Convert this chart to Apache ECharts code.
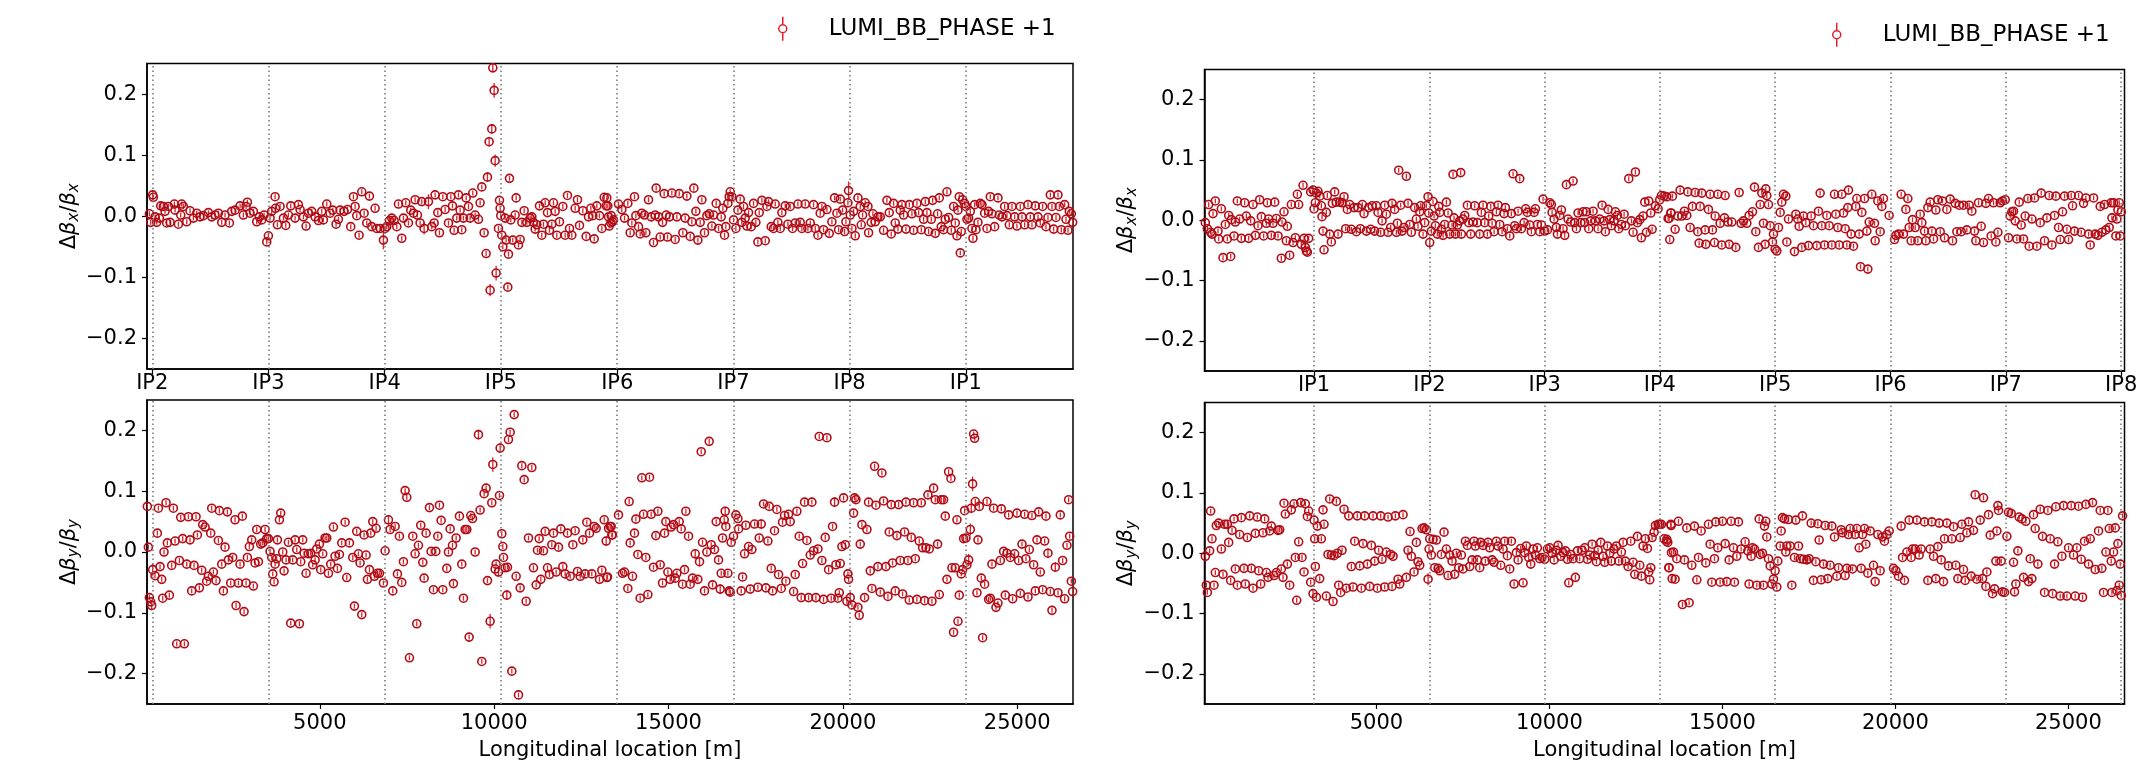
<!DOCTYPE html>
<html>
<head>
<meta charset="utf-8">
<script src="https://cdn.jsdelivr.net/npm/echarts@6/dist/echarts.min.js"></script>
<style>html,body{margin:0;padding:0;background:#fff}#chart{width:2142px;height:770px}</style>
</head>
<body>
<div id="chart"></div>
<script>
var seriesName = 'LUMI_BB_PHASE +1';
var ipNamesB1 = ['IP2', 'IP3', 'IP4', 'IP5', 'IP6', 'IP7', 'IP8', 'IP1'];
var ipPosB1 = [196, 3528, 6862, 10192, 13530, 16862, 20192, 23526];
var ipNamesB2 = ['IP1', 'IP2', 'IP3', 'IP4', 'IP5', 'IP6', 'IP7', 'IP8'];
var ipPosB2 = [3196, 6530, 9862, 13192, 16524, 19862, 23192, 26527];
var sTicks = [5000, 10000, 15000, 20000, 25000];
var yTicks = [-0.2, -0.1, 0, 0.1, 0.2];

// [s (m), dbeta/beta, optional error]
var b1x = [[113,0.004],[151,-0.010],[208,0.035,0.008],[227,0.031],[275,-0.001],[323,-0.010],[400,-0.003],[438,0.017],[514,0.016],[562,0.008],[610,-0.011],[658,0.016],[706,-0.010],[830,0.020],[849,0.010],[945,-0.013],[1012,0.002],[1040,0.020],[1088,0.016],[1184,-0.009],[1279,0.009],[1375,-0.003],[1471,0.005],[1566,-0.001],[1662,0.001],[1805,0.006],[1901,-0.001],[1997,0.002],[2092,0.005],[2188,-0.010],[2283,0.002],[2408,-0.011],[2475,0.008],[2570,0.010],[2714,0.017],[2809,0.002],[2886,0.016],[2924,0.023],[3000,0.005],[3096,0.008],[3192,-0.009],[3268,-0.001],[3335,-0.006],[3402,0.002],[3479,-0.042],[3526,-0.032],[3574,-0.003],[3622,0.008],[3718,0.032],[3730,0.013],[3785,-0.014],[3861,0.016],[3957,-0.003],[4024,-0.015],[4100,0.002],[4167,0.017],[4291,-0.003],[4387,0.019],[4435,0.011],[4530,-0.001],[4607,-0.016],[4674,0.005],[4769,0.008],[4865,-0.001],[4961,-0.007],[5056,0.008],[5104,-0.006],[5200,0.020],[5295,0.005],[5372,0.010],[5467,-0.013],[5534,-0.005],[5582,0.010],[5697,0.008],[5793,0.011],[5888,-0.017],[5965,0.032],[6013,0.016],[6060,0.001],[6127,-0.031],[6204,0.040],[6271,0.005],[6347,-0.011],[6424,0.033],[6490,-0.017],[6586,0.013],[6634,-0.020],[6730,-0.020],[6825,-0.039,0.015],[6873,-0.020],[6921,-0.017],[6997,-0.007,0.008],[7064,-0.003],[7131,-0.007],[7208,-0.017],[7256,0.020],[7351,-0.036],[7399,-0.003],[7466,0.022],[7542,-0.011],[7609,0.010],[7686,0.005],[7734,0.027],[7800,0.002],[7877,-0.011],[7925,0.024],[7992,-0.020,0.01],[8116,0.024,0.012],[8212,-0.017],[8279,-0.011],[8307,0.035],[8384,0.006],[8432,-0.027],[8527,0.032],[8594,0.011],[8690,-0.011],[8757,0.032],[8805,0.017],[8853,-0.023],[8929,-0.003],[8977,0.035],[9025,0.010],[9072,-0.022],[9120,-0.003],[9197,0.030],[9264,0.016],[9311,-0.003],[9388,0.038],[9455,0.002],[9550,-0.005],[9598,0.022],[9646,0.048],[9713,-0.027],[9770,-0.061],[9809,0.064,0.008],[9856,0.122,0.008],[9885,-0.121,0.01],[9933,0.143,0.008],[9962,0.243,0.008],[10000,0.206,0.012],[10029,0.091,0.01],[10057,-0.093,0.012],[10124,-0.020],[10153,0.026],[10172,0.013],[10191,0.001],[10220,-0.031],[10249,-0.050],[10316,-0.003],[10344,-0.039],[10392,-0.116],[10411,-0.062],[10440,0.062],[10478,-0.006],[10535,-0.039],[10602,0.002],[10631,0.030],[10698,-0.047],[10746,-0.038],[10794,-0.010],[10861,0.009],[10937,-0.010],[11033,-0.003],[11081,-0.001],[11128,-0.010],[11176,-0.021],[11224,-0.014],[11300,0.017],[11367,-0.031],[11415,-0.013],[11463,0.022],[11530,0.006],[11587,-0.023],[11654,-0.013],[11702,0.022],[11750,0.008],[11798,-0.031],[11874,-0.009],[11970,0.016],[12036,-0.031],[12103,0.034],[12161,-0.020],[12228,-0.031],[12323,0.013],[12390,0.027],[12448,-0.015],[12543,0.009],[12639,-0.033],[12706,-0.001],[12773,0.013],[12830,0.001],[12869,-0.037],[12945,0.017],[13022,0.001],[13089,-0.020],[13156,0.031],[13213,0.017],[13280,-0.001],[13347,-0.011],[13423,-0.006],
[13232,0.030],[13260,0.017],[13299,-0.016],[13356,0.001],[13394,-0.009],[13566,0.020],[13662,0.011],[13739,-0.003],[13834,0.021],[13901,-0.027],[13949,-0.011],[14025,0.032],[14064,0.001],[14140,-0.017],[14188,-0.029],[14236,0.005],[14312,0.002],[14351,-0.027],[14427,0.027],[14504,-0.001],[14570,-0.043],[14618,0.002],[14647,0.046],[14714,-0.001],[14762,-0.034],[14829,-0.010],[14876,0.037],[14934,0.002],[14972,-0.034],[15029,-0.001],[15096,0.038],[15192,-0.038],[15240,-0.001],[15307,0.037],[15412,-0.027],[15479,-0.003],[15527,0.033],[15622,-0.033],[15670,-0.009],[15727,0.046],[15785,0.008],[15842,-0.039],[15909,-0.010],[15957,0.027],[16033,-0.027],[16100,0.001],[16167,0.004],[16244,-0.016],[16292,0.002],[16368,0.021],[16435,-0.020],[16512,-0.001],[16559,0.013],[16607,-0.031],[16645,-0.017],[16703,0.021],[16741,0.032],[16770,0.040],[16818,0.032],[16865,-0.006],[16932,-0.020],[16990,0.010],[17057,0.028],[17104,-0.010],[17152,0.016],[17200,-0.003],[17248,-0.016],[17296,0.006],[17372,-0.017],[17439,0.021],[17506,-0.010],[17563,-0.042],[17602,0.006],[17678,0.026],[17774,-0.040],[17822,0.016],[17869,0.024],[17946,-0.017],[18013,-0.020],[18061,0.020],[18137,-0.010],[18204,-0.020],[18252,0.006],[18347,0.017],[18424,-0.013],[18491,0.016],[18558,-0.020],[18634,-0.011],[18711,0.020],[18778,-0.010],[18826,-0.020],[18921,0.020],[18998,-0.020],[19065,-0.011],[19160,0.019],[19208,-0.020],[19285,-0.031],[19351,0.005],[19399,0.016],[19447,-0.022],[19543,0.011],[19610,-0.028],[19686,-0.009],[19763,0.030],[19830,0.005],[19877,-0.022],[19925,0.028],[19992,0.010],[20049,-0.025],[20088,-0.009],[20145,0.022],[20164,0.042,0.015],[20212,0.002],[20260,-0.020],[20308,0.008],[20356,-0.032],[20432,0.030],[20499,0.016],[20528,-0.014],[20566,0.002],[20642,0.022],[20719,0.016],[20738,-0.027],[20814,-0.010],[20862,0.004],[20929,-0.009],[21006,-0.001],[21073,-0.001],[21168,-0.023],[21264,0.026],[21331,0.006],[21388,-0.029],[21455,0.021],[21503,-0.011],[21580,-0.021],[21646,0.010],[21694,0.019],[21742,0.002],[21809,-0.021],[21905,0.019],[21981,0.004],[22029,-0.023],[22124,0.021],[22172,0.006],[22249,-0.022],[22316,-0.005],[22364,0.024],[22411,0.006],[22459,-0.025],[22536,-0.005],[22574,0.026],[22650,-0.028],[22717,0.004],[22765,0.030],[22822,-0.017],[22889,-0.022],[22937,-0.005],[22985,0.040],[23033,-0.002],[23109,-0.023],[23176,0.016],[23224,-0.011],[23272,-0.032],[23301,0.010],[23339,0.032],[23368,-0.060],[23396,-0.025],[23434,0.027],[23492,0.021],[23530,0.016],[23559,-0.005],[23607,-0.003],[23655,0.008],[23702,-0.020],[23731,-0.036],[23779,0.019],[23817,-0.022],[23874,-0.010],[23941,0.021],[23989,0.019],[24066,0.005],[24133,-0.020],[24180,0.008],[24228,0.032],[24276,0.004],[24353,-0.017],[24448,0.030],[24486,0.002],[24563,-0.001],[24639,0.016],[24706,0.001],[24773,-0.014],[24850,0.016],[24926,-0.001],[24993,-0.016],[25089,0.016],[25137,-0.001],[25213,-0.014],[25309,0.019],[25375,-0.001],[25423,-0.014],[25519,0.017],[25596,-0.001],[25662,-0.011],[25729,0.016],[25825,-0.017],[25882,-0.002],[25949,0.035],[25997,0.016],[26045,-0.021],[26112,-0.002],[26169,0.035],[26207,0.016],[26265,-0.022],[26360,0.019],[26399,-0.005],[26456,-0.023],[26494,0.008],[26552,0.004],[26590,-0.010]];

var b1y = [[55,0.075],[84,0.008],[113,-0.075],[151,-0.082],[180,-0.088,0.008],[208,-0.029,0.01],[275,-0.039],[342,0.031],[371,0.072],[419,-0.024],[467,-0.045],[495,-0.076],[533,0.000],[591,0.081],[629,0.015],[686,-0.071],[753,-0.022],[801,0.072],[849,0.018],[897,-0.151],[973,-0.014],[1012,0.057],[1069,0.022],[1117,-0.151],[1184,-0.020],[1232,0.058],[1279,0.020],[1327,-0.064],[1394,-0.022],[1451,0.058],[1490,0.028],[1547,-0.059],[1614,-0.030],[1643,0.045],[1710,0.041],[1757,-0.048],[1805,-0.040],[1872,0.031],[1901,0.072],[1949,-0.033],[2025,-0.047],[2092,0.019],[2121,0.068],[2188,-0.020],[2236,-0.064],[2283,0.008],[2350,0.066],[2379,-0.013],[2446,-0.051],[2503,-0.009],[2570,0.053],[2599,-0.088],[2666,-0.051],[2714,-0.020],[2780,0.059],[2828,-0.098],[2886,-0.051],[2924,-0.009],[2981,0.009],[3048,0.020],[3096,-0.056],[3144,-0.018],[3192,0.037],[3240,-0.016],[3306,0.013],[3364,0.015],[3431,0.037],[3479,0.022],[3526,0.022],[3574,0.001],[3622,-0.009],[3651,-0.036],[3689,-0.049],[3718,-0.020],[3765,-0.011],[3785,0.020],[3842,0.053],[3880,0.064],[3938,0.000],[3976,-0.031],[4033,-0.013],[4100,0.016],[4167,-0.117],[4224,-0.013],[4291,0.020],[4339,0.004],[4416,-0.118],[4454,-0.016],[4511,0.020],[4550,-0.002],[4607,-0.035],[4674,-0.003],[4741,-0.002],[4798,-0.021],[4865,-0.013],[4913,0.005],[4989,0.013],[5028,-0.029],[5085,-0.003],[5152,0.023],[5200,0.023],[5248,-0.035],[5314,-0.020],[5391,0.041],[5439,-0.007],[5506,-0.027],[5563,-0.004],[5630,0.015],[5726,0.049],[5773,-0.042],[5850,0.015],[5946,-0.009],[5994,-0.089],[6060,0.034],[6108,-0.003],[6156,-0.018],[6204,-0.103],[6271,0.028],[6328,-0.005],[6366,-0.045],[6424,-0.029],[6462,0.031],[6519,0.050],[6567,-0.040],[6615,0.039],[6653,-0.035],[6711,-0.035],[6825,-0.051],[6873,0.002],[6969,0.053,0.008],[7017,0.037],[7093,-0.064],[7160,0.042],[7227,-0.036],[7284,0.026],[7351,-0.050],[7399,-0.016],[7447,0.101],[7495,0.090],[7571,-0.174],[7667,0.026],[7734,-0.003],[7781,-0.118],[7829,0.011],[7896,0.044],[7954,-0.017],[7992,-0.043],[8049,0.031],[8145,0.073],[8193,0.001],[8260,-0.062],[8327,0.001],[8384,0.026],[8432,0.077],[8480,0.052],[8527,-0.062],[8642,-0.027],[8690,0.000],[8738,0.038],[8805,0.011],[8833,-0.052],[8910,0.023],[9005,0.059],[9072,-0.020],[9120,-0.076],[9168,0.037],[9216,0.037],[9283,-0.140],[9331,0.060],[9379,0.055],[9455,0.000],[9550,0.193,0.008],[9598,0.069],[9646,-0.180],[9713,0.096],[9770,0.105],[9809,-0.047],[9885,-0.114,0.012],[9933,0.081],[9962,0.144,0.012],[10029,-0.028],[10057,-0.020],[10124,-0.033,0.008],[10153,0.093],[10172,0.171,0.008],[10220,0.030],[10249,0.009],[10268,-0.009],[10316,-0.026],[10363,-0.071,0.008],[10382,-0.025],[10411,0.185],[10459,0.197],[10507,-0.196],[10574,0.226],[10631,-0.040],[10698,-0.235],[10746,-0.059],[10794,0.142],[10861,0.119],[10918,-0.081],[10985,0.023],[11081,0.139],[11128,-0.026],[11205,-0.054],[11243,0.003],[11291,0.022],[11339,-0.045],[11415,0.002],[11463,0.034],[11530,-0.026],[11587,-0.037],[11654,0.012],[11702,0.031],[11778,-0.033],[11846,0.008],[11912,0.038],[11970,-0.024],[12036,-0.036],[12103,0.031],[12180,-0.040],[12257,0.012],[12323,0.035],[12390,-0.032],[12467,-0.040],[12543,0.020],[12610,-0.036],[12658,0.049],[12735,0.031],[12801,-0.036],[12869,0.042],[12926,0.039],[13022,-0.045],[13089,-0.030],[13156,0.053],[13213,0.018,0.008],[13251,-0.041],[13328,0.042],[13375,0.028],
[13232,-0.042],[13280,0.039],[13356,0.042],[13394,0.028],[13566,0.061],[13681,-0.035],[13739,-0.033],[13834,-0.060],[13872,0.083],[13901,0.015],[13968,-0.040],[14025,0.031],[14064,0.054],[14121,-0.004],[14188,-0.076],[14236,0.122],[14284,0.062],[14351,-0.009],[14408,-0.070],[14456,0.123],[14504,0.062],[14570,-0.025],[14637,0.027],[14695,0.067],[14762,-0.021],[14829,-0.051],[14886,0.031],[14924,0.050],[14982,-0.033],[15048,-0.045],[15077,0.041],[15144,0.045],[15192,-0.043],[15240,-0.035],[15307,0.050],[15364,0.038],[15402,-0.053],[15460,-0.029],[15498,0.067],[15575,0.026],[15622,-0.053],[15689,-0.043],[15766,-0.003,0.008],[15842,-0.045],[15890,-0.016,0.008],[15938,0.165],[15976,0.016],[16033,-0.064],[16100,0.000],[16167,0.182],[16225,0.012],[16263,-0.054],[16320,0.004],[16368,0.050],[16435,-0.013],[16483,-0.061,0.008],[16512,-0.035],[16550,0.023],[16598,0.053],[16626,0.067,0.008],[16645,0.042],[16703,-0.035],[16741,-0.064],[16770,-0.066],[16798,0.016],[16865,0.026],[16932,0.061],[16990,0.055],[17009,0.038],[17085,-0.064],[17124,-0.041],[17181,-0.003],[17219,0.044],[17296,0.009],[17343,-0.061],[17391,0.004],[17468,0.046],[17563,-0.058],[17602,0.023],[17659,0.046,0.008],[17726,0.079],[17793,-0.059],[17850,0.018],[17889,0.075],[17946,-0.027],[17984,-0.064],[18041,0.035],[18108,0.070],[18156,-0.037],[18233,-0.060],[18271,0.049],[18328,0.060],[18367,-0.048],[18443,0.062],[18491,0.050],[18587,-0.065],[18634,-0.037],[18682,0.067],[18749,0.026],[18806,-0.075],[18845,-0.019],[18902,0.082],[18969,0.019],[19017,-0.075],[19065,-0.005],[19112,0.082],[19160,0.002],[19227,-0.075],[19285,0.005],[19323,0.190],[19399,-0.014],[19447,-0.078],[19495,0.024],[19543,0.188],[19591,-0.029],[19667,-0.076],[19705,0.042],[19763,0.082,0.008],[19801,-0.021],[19858,-0.076],[19897,-0.067],[19925,-0.019],[19973,0.009],[20021,0.089],[20069,0.012],[20116,-0.081],[20145,-0.036],[20164,-0.045],[20212,-0.075,0.01],[20260,-0.087],[20308,0.064],[20336,0.089],[20375,0.086],[20432,-0.091],[20470,-0.104],[20499,0.013],[20547,0.045],[20623,-0.075],[20690,0.037],[20738,0.082],[20786,-0.031],[20834,-0.060],[20910,0.141],[20948,0.077],[21006,-0.024],[21073,-0.066],[21120,0.130],[21168,0.084],[21235,-0.024],[21293,-0.073],[21331,0.033],[21388,0.078],[21426,-0.018],[21503,-0.064],[21551,0.027],[21599,0.078],[21646,-0.014],[21713,-0.069],[21771,0.033],[21809,0.082],[21866,-0.014],[21905,-0.079],[21962,0.024],[22029,0.081],[22077,-0.011],[22124,-0.078],[22191,0.018],[22249,0.081],[22287,0.007],[22344,-0.080],[22383,0.007],[22440,0.094],[22478,0.005],[22555,-0.081],[22603,0.105],[22650,0.086],[22717,0.013],[22765,-0.070],[22822,0.086],[22889,0.086],[22937,0.059],[22985,-0.045],[23033,0.132],[23100,0.121],[23128,-0.026],[23176,-0.132],[23224,-0.026],[23272,0.053],[23301,-0.114],[23339,-0.071],[23396,-0.036],[23434,-0.029],[23463,0.022],[23492,0.068],[23530,0.023],[23559,-0.021],[23607,-0.013,0.01],[23655,0.037,0.01],[23683,0.072,0.008],[23721,0.112,0.012],[23750,0.194],[23779,0.187],[23798,0.083],[23846,-0.067],[23874,0.020],[23913,0.075],[23970,-0.043],[24008,-0.141],[24066,-0.053],[24133,0.083],[24180,-0.078],[24228,-0.076],[24276,-0.020],[24324,0.072],[24391,-0.091],[24448,-0.084],[24515,-0.014],[24544,0.071],[24611,0.001],[24658,-0.071],[24706,-0.002],[24754,0.061],[24802,-0.009],[24869,-0.077],[24926,-0.003],[24993,0.064],[25041,-0.014],[25089,-0.068],[25137,0.013],[25213,0.062],[25251,-0.011],[25309,-0.074],[25347,0.004],[25423,0.060],[25471,-0.021],[25519,-0.064],[25567,0.020],[25615,0.066],[25662,-0.033],[25729,-0.062],[25787,0.018],[25825,0.059],[25882,-0.002,0.008],[25949,-0.065],[25997,-0.096],[26093,-0.025,0.008],[26169,-0.067],[26236,0.061],[26303,-0.014],[26360,-0.077],[26427,0.011],[26475,0.086],[26504,0.026],[26552,-0.048],[26590,-0.065]];

var b2x = [[54,-0.004],[112,-0.014],[150,0.026],[208,-0.020],[247,-0.023],[276,0.011],[343,0.032],[420,-0.018],[440,-0.031],[517,0.019],[565,-0.062],[632,-0.007],[690,-0.031],[729,0.008],[786,-0.060],[806,0.001],[883,-0.026],[921,-0.003],[979,0.032],[1046,0.002],[1095,-0.030],[1191,0.029],[1239,0.007],[1307,-0.030],[1365,-0.001],[1432,0.026],[1500,-0.025],[1577,-0.009],[1625,0.034],[1673,0.006],[1740,-0.026],[1818,-0.005],[1846,0.029],[1885,0.002],[1962,-0.025],[2010,-0.005],[2059,0.030],[2107,0.003],[2155,-0.026],[2251,-0.063],[2271,-0.003],[2328,0.014],[2396,-0.034],[2425,-0.010],[2492,-0.058],[2540,0.026],[2589,-0.037],[2656,-0.029],[2714,0.043],[2752,0.026],[2829,-0.040],[2878,0.058],[2907,-0.030],[2945,-0.045],[2974,-0.051],[3003,-0.053],[3041,-0.030],[3099,0.047],[3167,0.050,0.008],[3196,0.019],[3234,0.029],[3263,0.045],[3311,0.048],[3360,0.040],[3408,0.024],[3427,0.006],[3456,-0.018],[3485,-0.049],[3552,0.013],[3581,0.041],[3649,-0.023],[3697,-0.036],[3726,0.028],[3793,0.047],[3841,0.030],[3890,-0.023],[3938,0.030],[4005,0.029],[4063,0.039],[4111,-0.014],[4159,0.018],[4227,0.026],[4275,-0.015],[4352,0.021],[4420,-0.019],[4468,0.021],[4535,-0.014],[4593,0.026],[4641,0.011],[4709,-0.018],[4776,0.021],[4834,-0.015],[4873,0.024],[4950,-0.018],[4998,0.024],[5046,0.013],[5123,-0.020],[5162,-0.001],[5239,0.025],[5287,0.010],[5335,-0.020],[5412,-0.012],[5451,0.028],[5528,0.018],[5576,-0.020],[5605,-0.005],[5643,0.083],[5865,0.073],[5701,0.025],[5740,-0.018],[5798,-0.012],[5913,0.028],[5961,-0.007],[6010,-0.020],[6106,0.021],[6154,0.002],[6202,-0.010],[6251,0.014],[6280,0.024],[6347,-0.023],[6395,-0.004],[6443,0.024],[6492,0.039,0.008],[6511,0.012],[6540,-0.037,0.01],[6588,-0.018],[6636,0.031],[6665,0.007],[6704,-0.009],[6761,-0.023],[6800,0.023],[6829,0.013],[6877,-0.015],[6925,-0.025],[6973,-0.007],[7022,0.030],[7070,0.012],[7118,-0.023],[7185,-0.008],[7214,0.076],[7436,0.079],[7243,0.004],[7282,-0.023],[7340,-0.008],[7407,-0.001],[7455,-0.023],[7503,0.002],[7552,0.008],[7629,0.025],[7667,-0.004],[7725,-0.023],[7793,-0.003],[7841,0.024],[7918,-0.004],[7985,-0.023],[8033,0.013],[8082,0.025],[8130,-0.004],[8207,-0.023],[8245,0.007],[8303,0.023],[8342,-0.005],[8400,-0.019],[8467,0.014],[8515,0.025],[8563,-0.007],[8631,-0.019],[8689,0.011],[8727,0.021],[8785,-0.014],[8853,-0.026],[8901,0.011],[8949,0.077],[9142,0.069],[8997,-0.009],[9045,-0.014],[9094,0.015],[9190,-0.014],[9267,-0.004],[9315,0.019],[9363,0.013],[9431,-0.008],[9479,-0.019],[9556,0.013],[9595,0.019],[9652,-0.007],[9720,-0.019],[9768,-0.008],[9816,0.035],[9864,-0.018],[9942,-0.016],[10009,0.029],[10057,0.026],[10077,0.013],[10134,0.002],[10202,-0.012],[10231,-0.023],[10298,0.008],[10346,0.017],[10394,-0.014],[10443,-0.025],[10491,0.059],[10539,0.002],[10616,-0.003],[10684,0.065],[10732,-0.004],[10780,-0.014],[10828,0.012],[10905,-0.004],[10973,0.014],[11021,-0.004],[11069,0.014],[11137,-0.014],[11194,-0.001],[11262,0.015],[11329,-0.001],[11406,-0.014],[11455,0.002],[11522,0.025],[11580,-0.001],[11618,-0.019],[11696,0.018],[11744,0.001],[11792,-0.009],[11869,-0.001],[11907,0.014],[11965,0.008],[12004,-0.014],[12081,-0.007],[12158,0.010],[12196,-0.009],[12293,0.069],[12370,-0.001],[12418,-0.020],[12486,0.080],[12544,-0.004],[12611,0.001],[12659,-0.029],[12707,0.007],[12756,0.030],[12804,-0.020],[12871,0.032],[12929,0.012],[12968,-0.015],[13064,0.024],[13141,0.019],[13189,0.034],[13237,0.041],[13315,0.040],[13430,0.003],[13478,-0.032],[13507,0.012],
[13392,0.039],[13460,0.003],[13517,0.012],[13556,0.040],[13633,-0.015],[13710,0.007],[13778,0.050],[13826,0.007],[13903,0.015],[13970,0.008],[13999,0.047],[14067,-0.012],[14134,0.023],[14211,0.046],[14288,-0.019],[14327,-0.038],[14356,0.023],[14404,0.045],[14500,-0.016],[14520,-0.040],[14597,0.018],[14645,0.043],[14712,-0.016],[14770,-0.037],[14790,0.007],[14867,0.043],[14934,-0.005],[14982,-0.041],[15059,0.004],[15079,0.041],[15156,-0.003],[15194,-0.040],[15271,-0.003],[15387,-0.045],[15483,0.046],[15541,-0.005],[15609,-0.001],[15705,-0.005],[15772,0.008],[15869,0.014],[15927,0.055],[15965,-0.019],[16042,-0.045],[16091,0.026],[16139,0.045],[16187,-0.005],[16235,-0.040],[16254,0.052],[16283,0.041],[16331,0.026],[16380,-0.009],[16447,-0.036],[16476,-0.023],[16524,-0.048],[16572,-0.051],[16621,-0.012],[16669,0.013],[16717,0.030],[16765,0.043],[16833,0.040],[16862,-0.036],[16910,0.002],[17083,-0.052],[17122,0.010],[17180,0.002],[17218,-0.010],[17295,-0.045],[17343,0.007],[17411,-0.004],[17488,-0.042],[17565,0.007],[17632,-0.009],[17729,-0.042],[17777,0.015],[17825,0.045],[17873,-0.009],[17951,-0.041],[18018,0.008],[18085,-0.009],[18163,-0.041],[18240,0.043],[18278,0.010],[18336,-0.012],[18375,-0.041],[18452,0.043],[18500,0.012],[18548,-0.014],[18596,-0.041],[18625,0.021],[18644,0.050],[18721,-0.023],[18789,-0.043],[18856,0.023],[18885,0.036],[18953,-0.023],[18991,-0.077],[19030,0.013],[19107,0.036],[19174,-0.018],[19203,-0.081],[19242,-0.003],[19319,0.043],[19396,-0.005],[19415,-0.034],[19492,0.032],[19560,-0.019],[19608,0.023],[19656,0.036],[19820,0.008],[19974,-0.032],[20013,-0.025],[20090,-0.023],[20167,0.043],[20234,-0.023],[20302,0.018],[20360,0.036],[20398,-0.012],[20456,-0.034],[20495,0.001],[20572,-0.012],[20649,-0.034],[20716,0.010],[20764,-0.004],[20842,-0.018],[20880,-0.034],[20938,0.021],[21005,0.030],[21054,-0.018],[21102,-0.031],[21169,0.017],[21227,0.034],[21295,-0.019],[21362,0.032],[21420,-0.029],[21487,0.018],[21584,0.035],[21651,-0.034],[21728,0.028],[21776,-0.019],[21844,0.025],[21902,-0.019],[21969,0.025],[22065,-0.016],[22133,0.025],[22210,0.015],[22287,-0.018],[22326,-0.034],[22403,0.029],[22480,-0.010],[22547,-0.037],[22615,0.028],[22692,0.036],[22769,-0.026],[22836,0.029],[22904,-0.036],[22962,-0.020],[23029,0.029],[23097,0.032],[23174,0.034],[23270,-0.029],[23318,0.007],[23366,0.014],[23415,0.015],[23463,-0.001],[23511,-0.031],[23579,0.030],[23636,-0.008],[23704,-0.031],[23752,0.007],[23829,0.036],[23868,-0.043],[23945,0.002],[24022,0.037],[24089,-0.043],[24186,-0.004],[24215,0.045],[24311,-0.034],[24378,0.004],[24446,0.041],[24523,-0.041],[24600,0.008],[24638,0.040],[24716,-0.012],[24764,-0.032],[24831,0.014],[24889,0.040],[24957,-0.015],[25005,-0.032],[25082,0.041],[25120,0.024],[25178,-0.018],[25294,0.041],[25371,-0.020],[25438,0.028],[25506,0.037],[25583,-0.023],[25631,-0.041],[25728,0.037],[25776,-0.023],[25853,-0.025],[25920,0.023],[25968,-0.020],[26046,0.026],[26084,-0.016],[26180,-0.012],[26238,0.029],[26258,0.004],[26306,0.029],[26373,-0.026],[26402,0.002],[26431,0.017],[26470,0.029],[26499,-0.026],[26528,0.014]];

var b2y = [[54,-0.005],[83,-0.053],[112,-0.065],[179,0.004],[208,0.070],[247,0.024],[305,-0.053],[343,-0.032],[372,0.046],[440,0.050],[517,0.007],[565,-0.035],[613,0.048],[690,0.048],[729,0.018],[786,-0.045],[825,0.038],[883,0.057],[921,-0.026],[979,-0.053],[1046,0.031],[1095,0.059],[1172,-0.025],[1210,-0.051],[1268,0.026],[1336,0.062],[1384,-0.025],[1432,-0.058],[1500,0.033],[1557,0.060],[1596,-0.029],[1654,-0.051],[1721,0.034],[1769,0.057],[1818,-0.032],[1866,-0.040],[1914,0.037],[1962,0.045],[2039,-0.037],[2107,-0.032],[2155,0.038],[2203,0.039],[2251,-0.026],[2299,-0.040],[2328,0.083],[2367,0.065],[2425,-0.018],[2492,-0.053],[2540,0.072],[2617,0.082],[2656,-0.007],[2695,-0.078],[2752,0.019],[2810,0.084],[2849,-0.007],[2907,-0.031],[2945,0.082],[3003,0.061],[3041,0.070],[3099,-0.048],[3167,-0.067,0.008],[3196,0.055],[3215,0.024],[3234,-0.022],[3263,-0.073],[3292,0.045],[3360,-0.042],[3408,0.024],[3456,0.072],[3485,0.048],[3552,-0.071],[3600,-0.002],[3649,0.090],[3697,-0.003],[3745,-0.080],[3774,-0.004],[3841,0.086],[3870,0.000],[3909,-0.053],[3967,-0.065],[4005,0.005],[4063,0.073],[4130,-0.058],[4198,0.062],[4275,-0.022],[4323,-0.056],[4371,0.020],[4449,0.062],[4516,-0.021],[4564,-0.058],[4612,0.016],[4661,0.062],[4738,-0.018],[4805,-0.055],[4853,0.013],[4901,0.062],[4950,-0.013],[5027,-0.058],[5065,0.005],[5123,0.062],[5162,-0.010],[5239,-0.056],[5287,0.002],[5335,0.060],[5412,-0.002],[5451,-0.055],[5480,-0.005],[5547,0.062],[5624,-0.043],[5672,-0.051],[5769,0.064],[5865,-0.040],[5913,0.005],[5971,0.036],[6010,-0.005],[6087,-0.031],[6154,0.018],[6202,-0.014],[6251,-0.020],[6318,0.041],[6376,0.042],[6443,0.039],[6492,-0.043,0.01],[6521,0.007],[6540,0.024],[6588,-0.003],[6636,0.023],[6684,-0.024],[6733,0.022],[6781,-0.025],[6829,-0.029],[6877,-0.002],[6954,0.035],[7022,0.007],[7070,-0.037],[7118,-0.003],[7185,-0.013],[7262,-0.035],[7310,0.000],[7378,-0.024],[7455,-0.003],[7503,-0.026],[7571,0.020],[7629,0.013],[7696,-0.022],[7764,-0.011],[7821,0.020],[7860,0.012],[7918,-0.011],[7985,-0.024],[8014,0.018],[8082,0.013],[8149,-0.013],[8226,0.018],[8274,0.009],[8342,-0.011],[8400,-0.015],[8467,0.020],[8515,0.012],[8592,-0.020],[8660,0.007],[8708,0.020],[8785,-0.004],[8853,-0.026],[8901,0.020],[8978,-0.051],[9045,0.001],[9094,-0.011],[9169,0.008],[9238,-0.049],[9285,0.001],[9334,0.012],[9402,-0.007],[9460,-0.018],[9527,0.007],[9595,-0.003],[9652,0.009],[9720,-0.009],[9787,-0.007],[9864,-0.010],[9942,0.007],[10009,0.009],[10077,0.000],[10134,-0.011],[10202,0.005],[10250,0.013],[10327,-0.005],[10394,0.001],[10462,0.004],[10520,-0.010],[10558,-0.049],[10616,-0.002],[10684,-0.009],[10751,-0.040],[10809,0.004],[10876,-0.009],[10944,0.005],[11021,0.009],[11098,-0.010],[11165,-0.003],[11233,0.015],[11310,-0.004],[11358,-0.014],[11406,0.005],[11483,0.018],[11551,-0.005],[11599,-0.015],[11676,0.012],[11744,0.000],[11792,-0.013],[11869,0.007],[11936,0.012],[12004,-0.013],[12081,0.002],[12129,0.018],[12196,-0.013],[12274,-0.022],[12351,0.020],[12418,-0.015],[12466,-0.035],[12544,0.028],[12611,-0.020],[12659,-0.038],[12707,0.012],[12775,0.024],[12833,0.008],[12871,-0.031],[12900,-0.044],[12929,-0.024],[12968,0.026],[13025,0.035],[13064,0.046],[13141,0.048],[13189,0.048],[13237,0.048],[13315,0.024],[13382,0.020],[13450,-0.024],[13507,0.048],[13527,0.001],[13546,-0.042],
[13392,0.023],[13421,0.018],[13460,-0.024],[13517,0.046],[13585,0.002],[13633,-0.043],[13681,-0.009],[13729,0.053],[13845,-0.085],[13903,-0.011],[13970,0.042],[14038,-0.082],[14115,-0.020],[14192,0.045],[14260,-0.044],[14308,-0.007],[14385,0.037],[14520,-0.016],[14597,0.048],[14645,0.015],[14693,-0.048],[14770,-0.009],[14809,0.052],[14867,0.009],[14934,-0.048],[15002,0.053],[15079,0.016],[15127,-0.047],[15194,-0.011],[15252,0.053],[15320,0.009],[15348,-0.048],[15416,-0.005],[15464,0.052],[15541,0.007],[15657,0.019],[15734,0.004],[15772,-0.051],[15830,-0.005],[15869,0.009],[15927,0.007],[15994,-0.053],[16062,0.057],[16091,-0.002],[16158,0.000],[16187,-0.053],[16216,0.045],[16254,0.053],[16283,0.027],[16331,-0.009],[16380,-0.021],[16428,-0.051],[16476,-0.043],[16524,-0.029,0.01],[16572,-0.056],[16601,-0.013],[16669,0.012],[16698,0.037],[16736,0.059],[16794,0.057],[16833,0.002],[16862,0.012],[16910,0.056],[16958,0.012],[17006,-0.053],[17083,-0.007],[17122,0.055],[17199,0.012],[17247,-0.009],[17314,0.062],[17343,-0.010],[17440,-0.011],[17507,-0.009],[17565,0.050],[17632,-0.045],[17700,-0.014],[17758,0.049],[17796,0.022],[17854,-0.044],[17922,-0.018],[17970,0.046],[18047,-0.042],[18114,-0.020],[18163,0.045],[18240,0.027],[18307,-0.038],[18355,-0.024],[18432,0.039],[18471,0.034],[18548,-0.037],[18596,-0.025],[18644,0.031],[18692,0.041],[18760,-0.026],[18837,0.031],[18885,0.041],[18953,0.009],[19011,-0.025],[19049,0.031],[19107,0.041],[19146,0.015],[19203,-0.033],[19271,0.037],[19367,-0.020],[19415,-0.047],[19492,0.031],[19560,-0.029],[19627,0.027],[19685,0.020],[19753,0.031],[19820,0.037],[19945,-0.025],[20013,-0.029],[20090,-0.038],[20167,0.045],[20206,-0.007],[20263,-0.045],[20331,0.002],[20398,0.055],[20456,-0.007],[20495,0.007],[20572,0.007],[20620,0.055],[20687,-0.003],[20745,0.007],[20842,0.052],[20938,-0.045],[21005,0.007],[21054,0.052],[21102,-0.005],[21169,-0.042],[21227,0.011],[21266,0.050],[21324,-0.011],[21391,-0.047],[21420,0.024],[21487,0.050],[21535,-0.021],[21632,0.024],[21680,0.044],[21747,-0.020],[21805,-0.042],[21873,0.026],[21921,0.048],[21969,-0.027],[22017,-0.045],[22065,0.034],[22114,0.052],[22191,-0.038],[22258,0.038],[22306,0.097],[22354,-0.043],[22451,0.055],[22518,-0.042],[22547,0.092],[22615,-0.055],[22644,-0.031],[22692,0.064],[22740,0.030],[22807,-0.067],[22865,-0.059],[22904,-0.013],[22933,0.037],[22962,0.079],[22981,0.071],[23058,-0.013],[23097,-0.064],[23154,-0.065],[23222,0.028],[23270,0.068],[23347,0.066],[23415,-0.015],[23444,-0.064],[23482,-0.051],[23540,0.004],[23579,0.060],[23656,0.057],[23704,-0.040],[23771,0.053],[23848,-0.047],[23897,-0.009],[23945,-0.042],[23993,0.064],[24041,0.041],[24118,-0.018],[24186,0.073],[24253,0.028],[24311,-0.065],[24407,0.071],[24475,0.024],[24542,-0.067],[24600,-0.018],[24638,0.077],[24696,0.019],[24764,-0.071],[24812,-0.005],[24860,0.079],[24957,-0.071],[25005,0.009],[25082,0.079],[25149,-0.003],[25197,-0.071],[25245,0.009],[25294,0.078],[25371,-0.010],[25409,-0.073],[25467,0.020],[25506,0.081],[25583,-0.018],[25631,0.024],[25698,0.084],[25776,-0.027],[25872,0.037],[25920,0.071],[25968,-0.025],[26016,-0.065],[26084,0.002],[26142,0.071],[26180,0.041],[26238,-0.013],[26258,-0.065],[26306,0.002],[26354,0.042],[26402,-0.062],[26431,0.016],[26470,-0.053],[26499,-0.018],[26528,-0.070],[26566,0.062]];

var FONT = 'DejaVu Sans';
var markerColor = '#b00d16';
var errColor = '#e0202a';
var ipLineColor = '#7a7a7a';
var defaultErr = 0.004;

var grids = [
  {left: 147, top: 63.5, width: 926, height: 305.5},
  {left: 147, top: 400, width: 926, height: 304},
  {left: 1204.5, top: 69.5, width: 920, height: 301.5},
  {left: 1204.5, top: 402.5, width: 920, height: 301.5}
];
var panels = [
  {data: b1x, ips: ipPosB1, names: ipNamesB1, plane: 'x', min: 45, max: 26600, top: true},
  {data: b1y, ips: ipPosB1, names: ipNamesB1, plane: 'y', min: 45, max: 26600, top: false},
  {data: b2x, ips: ipPosB2, names: ipNamesB2, plane: 'x', min: 30, max: 26622, top: true},
  {data: b2y, ips: ipPosB2, names: ipNamesB2, plane: 'y', min: 30, max: 26622, top: false}
];

var tickStyle = {show: true, inside: false, length: 5, lineStyle: {color: '#000', width: 1.2}};
var labelText = {color: '#000', fontFamily: FONT, fontSize: 21};

var xAxes = [], yAxes = [], series = [];
panels.forEach(function (p, i) {
  var ips = p.ips, names = p.names;
  xAxes.push({
    type: 'value', gridIndex: i, min: p.min, max: p.max,
    splitLine: {show: false},
    axisLine: {show: true, onZero: false, lineStyle: {color: '#000', width: 1.5}},
    axisTick: Object.assign({}, tickStyle, {customValues: p.top ? ips : sTicks}),
    axisLabel: Object.assign({}, labelText, {
      margin: p.top ? 4 : 9,
      customValues: p.top ? ips : sTicks,
      formatter: p.top ? function (v) { var k = ips.indexOf(v); return k >= 0 ? names[k] : ''; }
                       : function (v) { return String(v); }
    }),
    name: p.top ? '' : 'Longitudinal location [m]',
    nameLocation: 'middle', nameGap: 36,
    nameTextStyle: {color: '#000', fontFamily: FONT, fontSize: 21}
  });
  yAxes.push({
    type: 'value', gridIndex: i, min: -0.25, max: 0.25,
    splitLine: {show: false},
    axisLine: {show: true, onZero: false, lineStyle: {color: '#000', width: 1.5}},
    axisTick: Object.assign({}, tickStyle, {customValues: yTicks}),
    axisLabel: Object.assign({}, labelText, {
      margin: 10, customValues: yTicks,
      formatter: function (v) { return v.toFixed(1).replace('-', '\u2212'); }
    }),
    name: '{d|\u0394}{b|\u03b2}{s|' + p.plane + '}{d|/}{b|\u03b2}{s|' + p.plane + '}',
    nameLocation: 'middle', nameRotate: 90, nameGap: 62,
    nameTextStyle: {
      color: '#000', fontFamily: FONT, fontSize: 21,
      rich: {
        d: {fontFamily: FONT, fontSize: 21, lineHeight: 26, color: '#000'},
        b: {fontFamily: FONT, fontSize: 21, fontStyle: 'italic', lineHeight: 26, color: '#000'},
        s: {fontFamily: FONT, fontSize: 15, fontStyle: 'italic', lineHeight: 12, verticalAlign: 'bottom', color: '#000'}
      }
    }
  });
  series.push({
    type: 'custom', name: 'err' + i, xAxisIndex: i, yAxisIndex: i, z: 2, clip: true,
    data: p.data.map(function (d) { return [d[0], d[1], d.length > 2 ? d[2] : defaultErr]; }),
    encode: {x: 0, y: 1},
    renderItem: function (params, api) {
      var s = api.value(0), v = api.value(1), e = api.value(2);
      var a = api.coord([s, v + e]), b = api.coord([s, v - e]);
      return {type: 'line', shape: {x1: a[0], y1: a[1], x2: b[0], y2: b[1]},
              style: {stroke: errColor, lineWidth: 1.3}};
    },
    markLine: {
      silent: true, symbol: ['none', 'none'], label: {show: false},
      lineStyle: {type: [1.5, 3], color: ipLineColor, width: 1.6},
      data: ips.map(function (v) { return {xAxis: v}; })
    }
  });
  series.push({
    type: 'scatter', name: seriesName, xAxisIndex: i, yAxisIndex: i, z: 3,
    symbol: 'circle', symbolSize: 8,
    itemStyle: {color: 'rgba(255,255,255,0)', borderColor: markerColor, borderWidth: 1.6, opacity: 1},
    data: p.data.map(function (d) { return [d[0], d[1]]; })
  });
});

var legendIcon = 'path://M5,0L5,8M5,16L5,24M9,12A4,4,0,1,1,1,12A4,4,0,1,1,9,12Z';
function legendAt(left, top) {
  return {
    left: left, top: top, itemWidth: 10, itemHeight: 24, selectedMode: false,
    data: [{name: seriesName, icon: legendIcon}],
    itemStyle: {color: 'rgba(255,255,255,0)', borderColor: errColor, borderWidth: 1.5},
    textStyle: {color: '#000', fontFamily: FONT, fontSize: 23, padding: [0, 0, 0, 36]}
  };
}

var chart = echarts.init(document.getElementById('chart'));
chart.setOption({
  animation: false,
  backgroundColor: '#fff',
  grid: grids.map(function (g) {
    return Object.assign({show: true, borderColor: '#000', borderWidth: 1.5, backgroundColor: 'transparent'}, g);
  }),
  legend: [legendAt(773, 11), legendAt(1827, 17)],
  xAxis: xAxes,
  yAxis: yAxes,
  series: series
});
</script>
</body>
</html>
